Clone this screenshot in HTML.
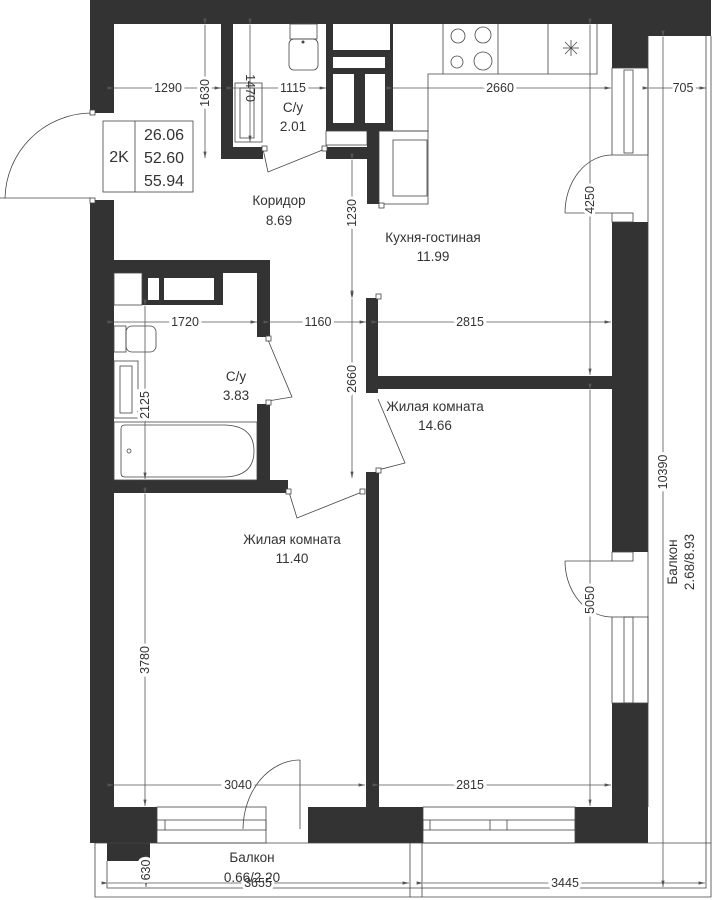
<!DOCTYPE html>
<html><head><meta charset="utf-8"><style>
html,body{margin:0;padding:0;background:#fff;}
svg{display:block;}
text{font-family:"Liberation Sans",sans-serif;fill:#333;}
.d{stroke:#555;stroke-width:0.8;fill:none;}
.t{font-size:12.5px;}
.l{font-size:13.5px;}
.w{fill:#333;}
.o{stroke:#444;stroke-width:0.8;fill:#fff;}
.n{stroke:#444;stroke-width:0.8;fill:none;}
</style></head><body>
<svg width="721" height="900" viewBox="0 0 721 900" xmlns="http://www.w3.org/2000/svg">
<defs>
<marker id="a" markerWidth="8" markerHeight="6" refX="8" refY="3" orient="auto"><path d="M0,1 L8,3 L0,5 z" fill="#555"/></marker>
</defs>
<rect class="w" x="90" y="0" width="621" height="24"/>
<rect class="w" x="648" y="24" width="63" height="12"/>
<rect class="w" x="612" y="24" width="36" height="44"/>
<rect class="w" x="90" y="0" width="24" height="113"/>
<rect class="w" x="90" y="200" width="24" height="607"/>
<rect class="w" x="90" y="807" width="67" height="36"/>
<rect class="w" x="107" y="843" width="43" height="18"/>
<rect class="w" x="308" y="807" width="115" height="36"/>
<rect class="w" x="575" y="807" width="73" height="36"/>
<rect class="w" x="612" y="222" width="36" height="330"/>
<rect class="w" x="612" y="703" width="36" height="104"/>
<g class="n">
<rect x="612" y="68" width="36" height="87"/><rect x="624" y="70" width="9" height="83"/>
<rect x="612" y="213" width="21" height="9"/>
<rect x="612" y="552" width="21" height="9"/>
<rect x="612" y="617" width="36" height="86"/><rect x="624" y="617" width="9" height="86"/>
<rect x="157" y="807" width="109" height="36"/><rect x="157" y="820" width="109" height="10"/>
<line x1="165" y1="820" x2="165" y2="830"/>
<rect x="423" y="807" width="152" height="36"/><rect x="423" y="820" width="152" height="10"/>
<line x1="430" y1="820" x2="430" y2="830"/>
<line x1="490" y1="820" x2="490" y2="830"/><line x1="507" y1="820" x2="507" y2="830"/>
</g>
<rect class="w" x="221" y="24" width="12" height="135"/>
<rect class="w" x="221" y="147" width="42" height="12"/>
<rect class="w" x="326" y="24" width="67" height="107"/>
<rect fill="#fff" x="333" y="24" width="57" height="26"/>
<rect fill="#fff" x="333" y="57" width="52" height="11"/>
<rect fill="#fff" x="333" y="74" width="21" height="49"/>
<rect fill="#fff" x="365" y="74" width="20" height="49"/>
<rect class="o" x="326" y="131" width="41" height="14"/>
<rect class="w" x="326" y="147" width="53" height="12"/>
<rect class="w" x="367" y="131" width="12" height="73"/>
<rect class="n" x="290" y="24" width="27" height="15"/>
<rect class="n" x="289" y="39" width="29" height="31" rx="5"/>
<circle cx="303" cy="42" r="1.5" fill="#444"/>
<rect class="n" x="235" y="83" width="27" height="59"/>
<rect class="n" x="240" y="88" width="14" height="50"/>
<polyline class="n" points="443,24 443,74 597,74 597,24"/>
<polyline class="n" points="379,131 428,131 428,74 443,74"/>
<line class="n" x1="498" y1="24" x2="498" y2="74"/>
<line class="n" x1="548" y1="24" x2="548" y2="74"/>
<circle class="n" cx="458" cy="36" r="7"/><circle class="n" cx="483" cy="35" r="8"/>
<circle class="n" cx="457" cy="62" r="6"/><circle class="n" cx="483" cy="61" r="9"/>
<g class="n"><line x1="563" y1="48" x2="579" y2="48"/><line x1="571" y1="40" x2="571" y2="56"/><line x1="565" y1="42" x2="577" y2="54"/><line x1="577" y1="42" x2="565" y2="54"/></g>
<rect class="n" x="379" y="131" width="49" height="73"/>
<rect class="n" x="393" y="140" width="34" height="56"/>
<rect class="w" x="114" y="260" width="156" height="13"/>
<rect class="w" x="257" y="260" width="13" height="77"/>
<rect class="w" x="257" y="404" width="13" height="77"/>
<rect class="w" x="114" y="480" width="174" height="13"/>
<rect class="w" x="142" y="273" width="81" height="32"/>
<rect fill="#fff" x="148" y="278" width="11" height="22"/>
<rect fill="#fff" x="164" y="278" width="50" height="22"/>
<rect class="n" x="114" y="273" width="28" height="32"/>
<rect class="n" x="114" y="326" width="12" height="26"/>
<rect class="n" x="126" y="326" width="30" height="26" rx="6"/>
<rect class="n" x="114" y="361" width="24" height="57"/>
<rect class="n" x="120" y="366" width="12" height="47"/>
<rect class="n" x="114" y="422" width="143" height="58"/>
<path class="n" d="M125,425 H225 Q254,426 254,451 Q254,476 225,477 H125 Q121,477 121,473 V429 Q121,425 125,425 Z"/>
<circle class="n" cx="129" cy="451" r="2"/>
<rect class="w" x="366" y="298" width="12" height="95"/>
<rect class="w" x="366" y="376" width="246" height="13"/>
<rect class="w" x="366" y="472" width="13" height="335"/>
<g class="n" stroke="#444">
<path d="M92,113 A87,87 0 0 0 5,198"/><line x1="0" y1="198" x2="92" y2="198"/>
<polyline points="263,149 268,172 325,149"/>
<polyline points="268,340 292,397 268,401"/>
<polyline points="378,399 405,463 378,470"/>
<polyline points="289,492 297,518 362,492"/>
<path d="M612,155 A47,58 0 0 0 565,213"/><line x1="565" y1="213" x2="612" y2="213"/>
<path d="M565,561 A47,56 0 0 0 612,617"/><line x1="565" y1="561" x2="612" y2="561"/>
<path d="M300,760 A57,70 0 0 0 243,829"/><line x1="300" y1="760" x2="300" y2="829"/>
</g>
<g fill="#fff" stroke="#444" stroke-width="0.8">
<rect x="90" y="110" width="5" height="5"/><rect x="90" y="198" width="5" height="5"/>
<rect x="262" y="146" width="5" height="5"/><rect x="322" y="146" width="5" height="5"/>
<rect x="266" y="336" width="5" height="5"/><rect x="266" y="400" width="5" height="5"/>
<rect x="376" y="294" width="5" height="5"/><rect x="376" y="468" width="5" height="5"/>
<rect x="286" y="489" width="5" height="5"/><rect x="360" y="489" width="5" height="5"/>
<rect x="379" y="203" width="5" height="5"/>
</g>
<g class="n">
<polyline points="95,843 95,897 711,897 711,36"/>
<polyline points="107,861 107,888 706,888 706,36"/>
<line x1="648" y1="36" x2="648" y2="807"/>
<line x1="410" y1="843" x2="410" y2="897"/><line x1="422" y1="843" x2="422" y2="897"/>
<line x1="95" y1="843" x2="711" y2="843"/>
</g>
<g class="d" marker-start="url(#a)" marker-end="url(#a)">
<line x1="114" y1="88" x2="221" y2="88"/>
<line x1="233" y1="88" x2="326" y2="88"/>
<line x1="393" y1="88" x2="611" y2="88"/>
<line x1="649" y1="88" x2="706" y2="88"/>
<line x1="205" y1="25" x2="205" y2="158"/>
<line x1="250" y1="25" x2="250" y2="142"/>
<line x1="590" y1="25" x2="590" y2="375"/>
<line x1="352" y1="160" x2="352" y2="297"/>
<line x1="114" y1="322" x2="257" y2="322"/>
<line x1="270" y1="322" x2="366" y2="322"/>
<line x1="378" y1="322" x2="611" y2="322"/>
<line x1="145" y1="306" x2="145" y2="479"/>
<line x1="352" y1="299" x2="352" y2="478"/>
<line x1="590" y1="390" x2="590" y2="806"/>
<line x1="145" y1="494" x2="145" y2="806"/>
<line x1="663" y1="37" x2="663" y2="887"/>
<line x1="114" y1="785" x2="365" y2="785"/>
<line x1="379" y1="785" x2="611" y2="785"/>
<line x1="108" y1="883" x2="409" y2="883"/>
<line x1="423" y1="883" x2="705" y2="883"/>
<line x1="146" y1="862" x2="146" y2="887"/>
</g>
<g class="t" text-anchor="middle" stroke="#fff" stroke-width="6" style="paint-order:stroke">
<text x="168" y="92">1290</text>
<text x="293" y="92">1115</text>
<text x="500" y="92">2660</text>
<text x="683" y="92">705</text>
<text transform="translate(209,93) rotate(-90)">1630</text>
<text transform="translate(246,88) rotate(90)" stroke="none">1470</text>
<text transform="translate(594,200) rotate(-90)">4250</text>
<text transform="translate(356,213) rotate(-90)">1230</text>
<text x="185" y="326">1720</text>
<text x="318" y="326">1160</text>
<text x="470" y="326">2815</text>
<text transform="translate(149,405) rotate(-90)">2125</text>
<text transform="translate(356,379) rotate(-90)">2660</text>
<text transform="translate(594,600) rotate(-90)">5050</text>
<text transform="translate(149,660) rotate(-90)">3780</text>
<text transform="translate(667,472) rotate(-90)">10390</text>
<text x="238" y="789">3040</text>
<text x="470" y="789">2815</text>
<text x="258" y="887">3655</text>
<text x="565" y="887">3445</text>
<text transform="translate(150,870) rotate(-90)">630</text>
</g>
<rect class="n" x="103" y="121" width="90" height="71"/>
<line class="n" x1="135" y1="121" x2="135" y2="192"/>
<g text-anchor="middle">
<text x="119" y="162" font-size="16">2K</text>
<text x="164" y="140" font-size="16">26.06</text>
<text x="164" y="163" font-size="16">52.60</text>
<text x="164" y="186" font-size="16">55.94</text>
</g>
<g class="l" text-anchor="middle">
<text x="293" y="112">С/у</text><text x="293" y="131">2.01</text>
<text x="279" y="205">Коридор</text><text x="279" y="225">8.69</text>
<text x="433" y="242">Кухня-гостиная</text><text x="433" y="261">11.99</text>
<text x="236" y="381">С/у</text><text x="236" y="400">3.83</text>
<text x="435" y="411">Жилая комната</text><text x="435" y="430">14.66</text>
<text x="292" y="544">Жилая комната</text><text x="292" y="563">11.40</text>
<text x="252" y="862">Балкон</text><text x="252" y="882">0.66/2.20</text>
<text transform="translate(677,562) rotate(-90)">Балкон</text>
<text transform="translate(694,562) rotate(-90)">2.68/8.93</text>
</g>
</svg>
</body></html>
